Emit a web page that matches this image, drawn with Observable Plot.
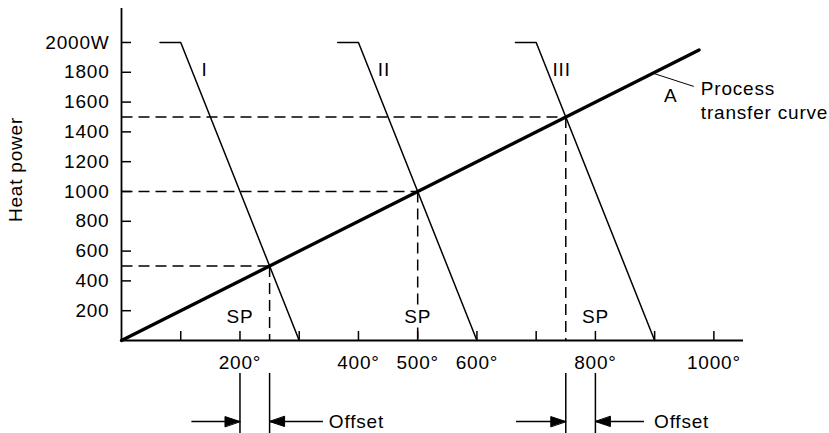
<!DOCTYPE html>
<html>
<head>
<meta charset="utf-8">
<script src="https://cdn.jsdelivr.net/npm/d3@7"></script>
<script src="https://cdn.jsdelivr.net/npm/@observablehq/plot@0.6"></script>
<style>
  html, body { margin: 0; padding: 0; background: #fff; }
</style>
</head>
<body>
<div id="chart"></div>
<script>
// ---- data ----
const processTemp = [0, 975];
const processPower = [0, 1950];

const bandNames = ["I", "II", "III"];
const bandFlatStart = [65, 365, 665];
const bandKnee = [100, 400, 700];
const bandZero = [300, 600, 900];
const bandMaxPower = 2000;
const bandLabelTemp = [140, 443, 743];
const bandLabelPower = 1815;

const setpointTemp = [250, 500, 750];
const setpointPower = [500, 1000, 1500];
const spLabelTemp = [200, 500, 800];
const spLabelPower = 161;

const xTicks = [100, 200, 300, 400, 500, 600, 700, 800, 900, 1000];
const xTickLabels = [200, 400, 500, 600, 800, 1000];
const yTicks = [200, 400, 600, 800, 1000, 1200, 1400, 1600, 1800, 2000];

const offsetPairs = [[200, 250], [750, 800]];
const offsetArrowLeftStart = [118, 666];
const offsetArrowRightEnd = [340, 882];
const offsetTextTemp = [350, 899];
const offsetLineTop = -221;
const offsetLineBottom = -660;
const offsetArrowPower = -544;

const curveLabelA = {t: 927, p: 1644};
const curveLeader = {t1: 897, p1: 1794, t2: 966, p2: 1705};
const curveTextLines = ["Process", "transfer curve"];
const curveTextTemp = 978;
const curveTextPower = [1691, 1530];

// ---- derived tables ----
const process = processTemp.map((t, i) => ({t, p: processPower[i]}));
const bandRows = bandNames.flatMap((band, i) => [
  {band, t: bandFlatStart[i], p: bandMaxPower},
  {band, t: bandKnee[i], p: bandMaxPower},
  {band, t: bandZero[i], p: 0}
]);
const bandLabels = bandNames.map((name, i) => ({name, t: bandLabelTemp[i], p: bandLabelPower}));
const spRows = setpointTemp.map((t, i) => ({t, p: setpointPower[i]}));
const offsetRows = offsetPairs.map(([a, b], i) => ({
  a, b, leftStart: offsetArrowLeftStart[i], rightEnd: offsetArrowRightEnd[i], textAt: offsetTextTemp[i]
}));

const triangle = {
  draw(context, l) {
    context.moveTo(0, -l);
    context.lineTo(-5, 0);
    context.lineTo(5, 0);
    context.closePath();
  }
};

const dash = "11,6";

const chart = Plot.plot({
  width: 829,
  height: 433,
  marginLeft: 121,
  marginRight: 86,
  marginTop: 8,
  marginBottom: 93,
  style: {
    fontFamily: "'Liberation Sans', Arial, Helvetica, sans-serif",
    fontSize: "19px",
    letterSpacing: "0.8px",
    background: "#fff",
    color: "#000",
    overflow: "visible"
  },
  x: {domain: [0, 1050], label: null},
  y: {domain: [0, 2228], label: null},
  marks: [
    // dashed guides
    Plot.link(spRows, {x1: () => 0, x2: "t", y1: "p", y2: "p", stroke: "#000", strokeWidth: 1.5, strokeDasharray: dash}),
    Plot.link(spRows, {x1: "t", x2: "t", y1: "p", y2: () => 0, stroke: "#000", strokeWidth: 1.5, strokeDasharray: dash}),
    // proportional band lines
    Plot.line(bandRows, {x: "t", y: "p", z: "band", stroke: "#000", strokeWidth: 1.5}),
    // process transfer curve
    Plot.line(process, {x: "t", y: "p", stroke: "#000", strokeWidth: 3.3}),
    // axes lines
    Plot.ruleY([0], {stroke: "#000", strokeWidth: 1.8}),
    Plot.ruleX([0], {stroke: "#000", strokeWidth: 1.8}),
    // ticks (inward)
    Plot.axisX(xTicks, {tickSize: -9, tickFormat: () => "", strokeWidth: 1.5, label: null}),
    Plot.axisX(xTickLabels, {tickSize: 0, tickPadding: 15, tickFormat: d => `${d}°`, label: null}),
    Plot.axisY(yTicks, {tickSize: -10, tickFormat: () => "", strokeWidth: 1.5, label: null}),
    Plot.axisY(yTicks, {tickSize: 0, tickPadding: 12, tickFormat: d => d === 2000 ? "2000W" : `${d}`, label: null}),
    // axis title
    Plot.text(["Heat power"], {frameAnchor: "left", textAnchor: "middle", dx: -106, dy: -5, rotate: -90, text: d => d, fill: "#000"}),
    // band labels
    Plot.text(bandLabels, {x: "t", y: "p", text: "name", fill: "#000"}),
    // SP labels
    Plot.text(spLabelTemp, {x: d => d, y: () => spLabelPower, text: () => "SP", fill: "#000", stroke: "#fff", strokeWidth: 8}),
    // process curve annotation
    Plot.link([curveLeader], {x1: "t1", y1: "p1", x2: "t2", y2: "p2", stroke: "#000", strokeWidth: 1}),
    Plot.text([curveLabelA], {x: "t", y: "p", text: () => "A", fill: "#000"}),
    Plot.text(curveTextLines, {x: () => curveTextTemp, y: (d, i) => curveTextPower[i], text: d => d, textAnchor: "start", fill: "#000"}),
    // offset markers
    Plot.ruleX(offsetPairs.flat(), {x: d => d, y1: () => offsetLineTop, y2: () => offsetLineBottom, stroke: "#000", strokeWidth: 1.5}),
    Plot.link(offsetRows, {x1: "leftStart", x2: "a", y1: () => offsetArrowPower, y2: () => offsetArrowPower, stroke: "#000", strokeWidth: 1.5}),
    Plot.link(offsetRows, {x1: "b", x2: "rightEnd", y1: () => offsetArrowPower, y2: () => offsetArrowPower, stroke: "#000", strokeWidth: 1.5}),
    Plot.vector(offsetRows, {x: "a", y: () => offsetArrowPower, rotate: 90, length: 15, anchor: "end", shape: triangle, fill: "#000", stroke: "#000", strokeWidth: 1}),
    Plot.vector(offsetRows, {x: "b", y: () => offsetArrowPower, rotate: -90, length: 15, anchor: "end", shape: triangle, fill: "#000", stroke: "#000", strokeWidth: 1}),
    Plot.text(offsetRows, {x: "textAt", y: () => offsetArrowPower, text: () => "Offset", textAnchor: "start", fill: "#000"})
  ]
});

document.getElementById("chart").appendChild(chart);
</script>
</body>
</html>
